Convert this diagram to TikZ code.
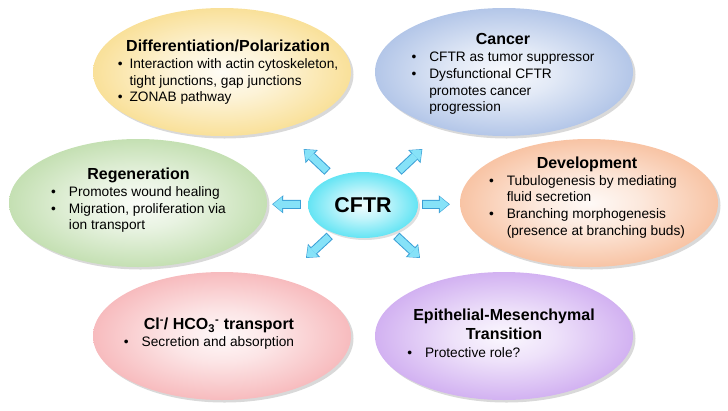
\documentclass[tikz,border=0pt]{standalone}
\usepackage{fontspec}
\setmainfont{Liberation Sans}
\usepackage{xcolor}
\usepackage{tikz}
\usetikzlibrary{arrows.meta,shapes.geometric,shadows}
\definecolor{ylw}{HTML}{F6D063}
\definecolor{sky}{HTML}{8BA8DC}
\definecolor{leaf}{HTML}{A5CF8A}
\definecolor{peach}{HTML}{F4A474}
\definecolor{blush}{HTML}{F3979B}
\definecolor{lilac}{HTML}{BA88EA}
\definecolor{aqua}{HTML}{12D6EE}
\definecolor{spokefill}{HTML}{86E2F8}
\definecolor{spokeline}{HTML}{3A9FD6}
\colorlet{bubblecol}{ylw}
\pgfdeclareradialshading[bubblecol]{bubbleshade}{\pgfpointorigin}{%
  color(0bp)=(bubblecol!6); color(10bp)=(bubblecol!25); color(38bp)=(bubblecol); color(50bp)=(bubblecol)}
\newcommand{\bubtitle}[1]{\multicolumn{2}{c}{\fontsize{16}{17}\selectfont\bfseries #1}}
\tikzset{
  bubble/.style={
    ellipse, minimum width=258pt, minimum height=128pt, inner sep=0pt,
    /utils/exec={\colorlet{bubblecol}{#1}}, shade, shading=bubbleshade,
    drop shadow={shadow xshift=2.5pt, shadow yshift=-2.5pt, opacity=0.3}
  },
  bubble/.default=ylw,
  hub/.style={
    ellipse, minimum width=110pt, minimum height=66pt, inner sep=0pt,
    /utils/exec={\colorlet{bubblecol}{aqua}}, shade, shading=bubbleshade,
    drop shadow={shadow xshift=2pt, shadow yshift=-2pt, opacity=0.25},
    font=\fontsize{21.4}{24}\selectfont\bfseries
  },
  txt/.style={inner sep=0pt, font=\fontsize{13.7}{16.7}\selectfont},
  spoke/.style 2 args={
    draw=spokefill, line width=7pt,
    -{Triangle[length=9pt,width=15pt,line width=0pt]},
    shorten <=#1pt, shorten >=#2pt,
    preaction={draw=spokeline, line width=9pt,
      -{Triangle[length=11pt,width=18pt,line width=0pt]},
      shorten <=\the\dimexpr#1pt-1pt\relax, shorten >=\the\dimexpr#2pt-1pt\relax}
  },
}
\begin{document}
\begin{tikzpicture}[x=1pt, y=-1pt]
  \useasboundingbox (0,0) rectangle (728,410);
  \node[bubble=ylw] at (222,72) (diff) {};
  \node[bubble=sky] at (504,72) (cancer) {};
  \node[bubble=leaf] at (138,203) (regen) {};
  \node[bubble=peach] at (589,203) (devel) {};
  \node[bubble=blush] at (222,336) (trans) {};
  \node[bubble=lilac] at (504,336) (emt) {};
  \node[hub] at (363,205) (cftr) {CFTR};
  \node[txt] at (228,73.5) (diff-txt) {\begin{tabular}{@{}l@{\hspace{7pt}}l@{}}
    \bubtitle{Differentiation/Polarization}\\
    \textbullet & Interaction with actin cytoskeleton,\\
                & tight junctions, gap junctions\\
    \textbullet & ZONAB pathway
  \end{tabular}};
  \node[txt] at (503,75) (cancer-txt) {\begin{tabular}{@{}l@{\hspace{13pt}}l@{}}
    \bubtitle{Cancer}\\
    \textbullet & CFTR as tumor suppressor\\
    \textbullet & Dysfunctional CFTR\\
                & promotes cancer\\
                & progression
  \end{tabular}};
  \node[txt] at (138.5,201.5) (regen-txt) {\begin{tabular}{@{}l@{\hspace{13pt}}l@{}}
    \bubtitle{Regeneration}\\
    \textbullet & Promotes wound healing\\
    \textbullet & Migration, proliferation via\\
                & ion transport
  \end{tabular}};
  \node[txt] at (587,198.5) (devel-txt) {\begin{tabular}{@{}l@{\hspace{13pt}}l@{}}
    \bubtitle{Development}\\
    \textbullet & Tubulogenesis by mediating\\
                & fluid secretion\\
    \textbullet & Branching morphogenesis\\
                & (presence at branching buds)
  \end{tabular}};
  \node[txt] at (209,335) (trans-txt) {\begin{tabular}{@{}l@{\hspace{13pt}}l@{}}
    \multicolumn{2}{r}{\fontsize{16}{17}\selectfont\bfseries
      Cl\textsuperscript{-}/ HCO\textsubscript{3}\textsuperscript{-} transport\hspace*{-6pt}}\\
    \textbullet & Secretion and absorption
  \end{tabular}};
  \node[txt] at (504,335.5) (emt-txt) {\begin{tabular}{@{}l@{\hspace{13pt}}l@{}}
    \bubtitle{Epithelial-Mesenchymal}\\[2pt]
    \bubtitle{Transition}\\[1pt]
    \textbullet & Protective role?
  \end{tabular}};
  \draw[spoke={9}{30.5}] (cftr) -- (diff);
  \draw[spoke={9}{30.5}] (cftr) -- (cancer);
  \draw[spoke={8}{6}] (cftr) -- (regen);
  \draw[spoke={5}{11}] (cftr) -- (devel);
  \draw[spoke={5.5}{32.5}] (cftr) -- (trans);
  \draw[spoke={5.5}{32.5}] (cftr) -- (emt);
\end{tikzpicture}
\end{document}
